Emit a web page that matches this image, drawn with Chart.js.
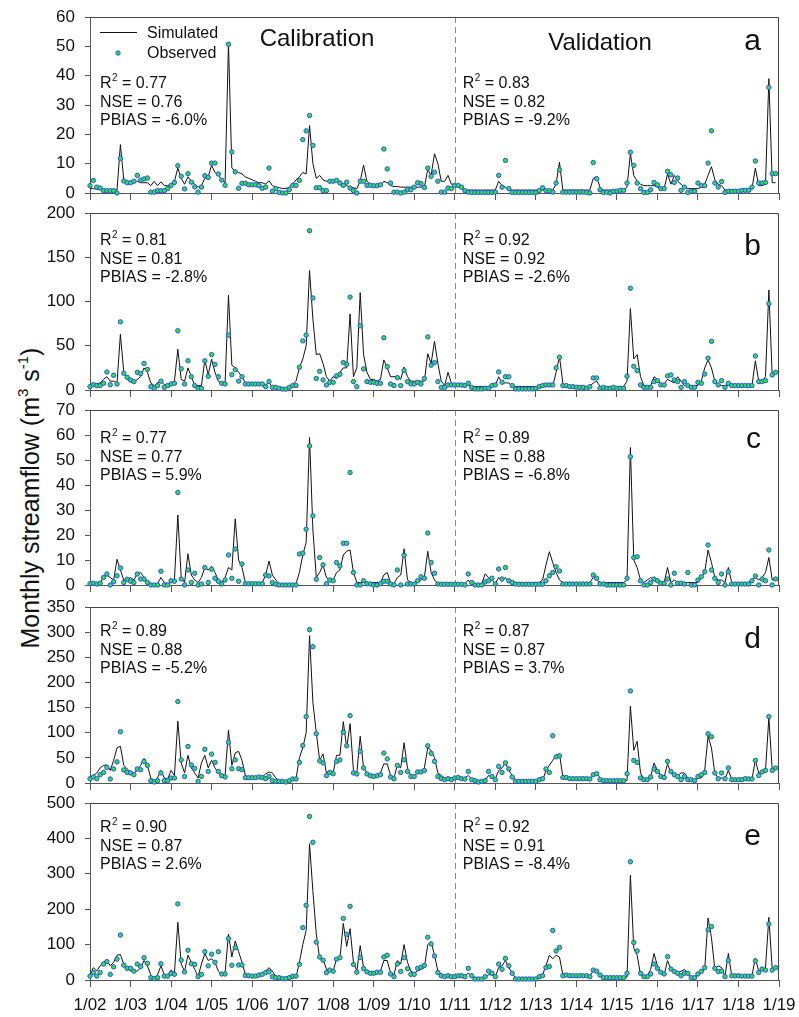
<!DOCTYPE html>
<html>
<head>
<meta charset="utf-8">
<script src="https://cdn.jsdelivr.net/npm/chart.js@4.4.1/dist/chart.umd.min.js"></script>
<style>
body { margin: 0; background: #fff; }
#wrap { position: relative; width: 799px; height: 1017px; overflow: hidden; font-family: "Liberation Sans", Arial, sans-serif; }
#wrap canvas { position: absolute; left: 0; }
#ytitle {
    position: absolute; left: -220px; top: 483px; width: 500px; height: 30px;
    line-height: 30px; text-align: center; font-size: 25px; color: #111;
    transform: rotate(-90deg); white-space: nowrap;
}
#ytitle sup { font-size: 15px; line-height: 0; position: relative; top: -2px; }
</style>
</head>
<body>
<div id="wrap">
    <div id="ytitle">Monthly streamflow (m<sup>3</sup> s<sup>-1</sup>)</div>
</div>
<script>
// monthly values, Jan 2002 .. Dec 2018 (one row per year)
const obsA = [
    2.5, 4.3, 2, 1.7, 0.8, 0.8, 0.8, 0.8, 0, 11.8, 4.1, 3.5,
    3.5, 4, 6, 4.4, 4.8, 5.1, 0.3, 0.3, 0.8, 0.8, 0.8, 1.5,
    2.6, 3.6, 9.3, 5.7, 1.4, 6.6, 3.7, 2.1, 0.3, 2, 5.9, 5.3,
    10.2, 10.2, 6.5, 4.4, 2.6, 50.7, 14, 7.2, 1.6, 3.3, 3.3, 2.8,
    2.8, 2.8, 2.5, 1.6, 2, 8.5, 0.6, 1.5, 0.2, 0, 0, 1.1,
    2.6, 2.6, 4.3, 18.2, 21.2, 26.4, 16.2, 1.8, 1.8, 0.8, 0.8, 4,
    4, 4.3, 3.4, 2.6, 3.7, 1.7, 0.8, 0, 4, 4, 2.6, 2.6,
    2.5, 2.5, 2.8, 15, 8.2, 3.4, 0.3, 0.3, 0, 0.3, 1.1, 1.1,
    2, 3.5, 3.2, 1.9, 8.5, 5.7, 7.1, 4, 0.3, 0.3, 1.7, 1.5,
    2.5, 2.6, 2, 0.8, 0.3, 0.2, 0.2, 0.2, 0.2, 0.2, 0.2, 0.2,
    0.3, 6, 2, 11.1, 1.5, 0.2, 0.2, 0.2, 0.2, 0.2, 0.2, 0.2,
    0.2, 0.8, 1.8, 0.8, 0.8, 0.3, 3.4, 7.9, 0.3, 0.3, 0.3, 0.3,
    0.3, 0.3, 0.3, 0.2, 0, 10.4, 4.9, 1.1, 0.2, 0.3, 0, 0.6,
    0.6, 0.9, 0.9, 3.4, 13.9, 9.4, 3.4, 1.5, 0.2, 0.2, 1.1, 3.6,
    2.8, 1.5, 1.5, 7.4, 6.2, 3.6, 5.1, 0.9, 2, 0.2, 0.6, 0.6,
    3.4, 2.5, 2.5, 10.2, 21.2, 3.4, 2, 3.9, 0.2, 0.6, 0.6, 0.6,
    0.6, 0.9, 0.9, 0.9, 2, 10.9, 3.4, 3.4, 3.6, 36, 6.6, 6.6
];
const simA = [
    1.5, 1.5, 1.3, 1.2, 1, 1, 1, 1, 1, 16.5, 4.5, 4,
    3.8, 3.8, 4, 3.5, 3.5, 3.5, 2.5, 4, 2.5, 3.8, 2.5, 2.5,
    3, 4, 8.5, 5, 3, 5.5, 4, 3, 2, 2.5, 5, 5.5,
    9.5, 7, 6, 4.5, 3.5, 51, 8.5, 7.5, 7, 6.5, 5.5, 5,
    4.5, 4, 3.5, 3.5, 3, 4.2, 2.5, 2, 1.8, 1.5, 1.5, 2,
    3, 4.5, 5.5, 7, 6.5, 23, 10, 5, 6, 4.5, 4, 4,
    4, 4.2, 3.5, 3, 2.5, 2, 1.8, 1.5, 4, 9.5, 4, 3,
    2.5, 2.5, 2.5, 4, 3.5, 2.5, 2.2, 2.2, 2, 2, 2, 2,
    2, 2, 2, 2, 8, 6, 13.4, 10, 4, 4, 6, 3,
    3, 2.5, 1.5, 1, 1, 1, 1, 1, 1, 1, 1, 1,
    1, 4, 2.5, 2, 1, 1, 1, 1, 1, 1, 1, 1,
    1, 1, 1, 1, 1, 1, 3, 10.5, 1, 1, 1, 1,
    1, 1, 1, 1, 1, 5, 5.5, 2, 1, 1, 1, 1,
    1, 1, 1, 2, 13.4, 6, 4, 3, 2.5, 2.5, 2.5, 2.5,
    2, 1.5, 1.5, 6.5, 3, 6, 4, 3, 2, 1.5, 1.5, 1.5,
    1.5, 2, 3, 6, 9, 4.5, 3, 2.5, 1, 1, 1, 1,
    1, 1, 1, 1, 1.5, 8.5, 2.5, 2.5, 3, 39, 3.5, 3.5
];
const obsB = [
    3.8, 6, 5, 5, 7.6, 20.4, 6, 16.6, 6.8, 77, 19, 14.4,
    11.4, 9.5, 20, 18.5, 30, 23.4, 3.8, 1.9, 5, 10, 3, 5,
    6.8, 7.6, 67, 24, 6.8, 33, 15, 5, 1.9, 1.9, 33, 15.5,
    40, 29, 15, 7.6, 6.8, 62, 17.4, 23, 10, 15, 6.8, 6.8,
    6.8, 6.8, 6.8, 6.8, 3.8, 9.5, 3, 3, 1.9, 1, 1, 3,
    5, 5, 25.7, 55.5, 62, 180, 104, 13, 21, 11.4, 5.7, 8.7,
    8.7, 16, 17.8, 31, 29, 105, 9.5, 3.8, 72.5, 23.8, 9.5, 8.7,
    8.7, 7.6, 7.6, 59, 26.4, 6.8, 5, 14, 5, 22, 9.5, 6.8,
    6.8, 8.7, 6.8, 13, 60, 28, 31, 9.5, 3, 3, 5.7, 5.7,
    5.7, 5.7, 5.7, 5, 7.6, 3, 1.2, 1.2, 1.2, 1.9, 1.9, 5,
    5.7, 20.4, 8.7, 15, 15, 5, 1.2, 1.2, 1.2, 1.2, 1.2, 1.2,
    1.9, 3.8, 5, 5.7, 5.7, 5.7, 25, 37, 5, 5, 3.8, 3.8,
    3, 3, 3, 1.9, 3.8, 13.6, 13.6, 1.9, 3, 1.9, 1.9, 3,
    1.9, 1.9, 1.9, 15.5, 115, 26.8, 22, 5.7, 3, 3, 3, 9.5,
    10.6, 5.7, 5.7, 16, 17, 11.4, 9.5, 3, 9.5, 5, 3, 3,
    8.7, 7.6, 18, 36, 55, 9.5, 5.7, 10.6, 3, 7.6, 5, 5,
    5, 5, 5, 5, 5, 38.5, 9.5, 9.5, 10.6, 97.5, 17, 20
];
const simB = [
    5, 6, 7, 8, 12, 15, 10, 10, 8, 63, 20, 12,
    9, 9, 12, 15, 25, 20, 8, 5, 8, 10, 6, 6,
    8, 10, 46, 12, 10, 25, 15, 5, 5, 5, 34, 17,
    35, 20, 10, 8, 8, 107, 28, 25, 20, 15, 8, 8,
    8, 8, 8, 8, 6, 8, 4, 3, 2, 2, 2, 3,
    6, 10, 25, 35, 50, 135, 80, 40, 41, 30, 15, 10,
    15, 13, 20, 25, 25, 86, 15, 25, 110, 40, 20, 12,
    12, 10, 12, 34, 25, 15, 15, 15, 12, 26, 15, 10,
    10, 10, 10, 10, 41, 30, 55, 30, 10, 5, 20, 8,
    5, 5, 5, 5, 5, 4, 4, 4, 4, 4, 4, 5,
    5, 15, 8, 8, 8, 4, 4, 4, 4, 4, 4, 4,
    4, 4, 4, 4, 4, 4, 20, 38, 8, 4, 4, 4,
    4, 4, 4, 4, 4, 8, 10, 4, 4, 4, 4, 4,
    4, 4, 4, 10, 92, 35, 40, 15, 5, 5, 5, 15,
    12, 7, 7, 12, 10, 8, 15, 10, 5, 5, 5, 5,
    5, 10, 25, 34, 25, 10, 5, 5, 5, 5, 5, 5,
    5, 5, 5, 5, 5, 33, 10, 10, 15, 113, 15, 20
];
const obsC = [
    0.5, 0.7, 0.4, 0.7, 3, 4.4, 0, 1.3, 3.7, 6.8, 1, 2.3,
    1.5, 1, 4.4, 2.4, 2.4, 1, 0, 0, 0, 5.5, 0, 0,
    1.7, 1.5, 37, 2.4, 0, 6, 1, 4.7, 0, 0.4, 7, 1,
    6.3, 2.7, 1.5, 0.4, 2, 12, 2.7, 14.4, 1.5, 8.4, 0.5, 0.5,
    0.5, 0.5, 0.5, 0.5, 4, 3.6, 1, 0.3, 0, 0, 0, 0,
    0, 0, 12.4, 12.7, 22.3, 55.6, 27.7, 2.3, 11, 8.1, 0.5, 2,
    1.7, 9, 7.6, 16.7, 16.7, 45, 5, 0, 0, 1.7, 0.5, 0.4,
    0, 0, 0.5, 1.5, 1.5, 0.4, 0, 6, 0, 11.9, 0.4, 0.4,
    0.4, 1.7, 3.3, 2.7, 20.8, 9, 4.7, 0.4, 0.3, 0.3, 0.3, 0.3,
    0.3, 0.3, 0.3, 0, 4.4, 1, 0, 0, 0, 1.2, 1.7, 2.7,
    0.4, 6.4, 2.4, 7, 1.7, 1, 0.4, 0.3, 0.3, 0.3, 0.3, 0.3,
    0.3, 0.3, 0.3, 1.7, 3.7, 5, 7.3, 5.6, 0.4, 0.4, 0.4, 0.4,
    0.4, 0.4, 0.4, 0.4, 0.4, 4, 2.7, 0.4, 0.4, 0, 0, 0,
    0, 0, 0, 2.7, 51.3, 11, 11.3, 1.7, 0, 0, 1, 2.4,
    1.7, 0.7, 0.7, 2.4, 0, 4.7, 0.7, 0.7, 0.4, 5, 0, 0,
    2, 3.3, 5.3, 16, 6, 2.7, 1, 4.4, 0, 5.3, 0.4, 0.4,
    0.4, 0.4, 0.4, 0.4, 1.7, 3.6, 0, 2.4, 1.7, 14, 0, 2.4
];
const simC = [
    0.5, 1, 0.5, 1, 3, 4, 3, 2, 10.3, 6, 2, 2,
    3, 2, 4.5, 5, 3, 1, 0.5, 0.5, 0.5, 3, 1, 0.5,
    1, 2, 28, 3, 1, 12.5, 4, 2, 1, 3, 7, 6,
    7.5, 5, 2, 1, 3, 7, 6, 26.5, 10, 7, 1, 1,
    1, 1, 1, 1, 4, 9.6, 4, 2, 0.5, 0.5, 0.5, 0.5,
    0.5, 0.5, 5, 12, 17, 59, 22, 3, 5, 8, 3, 2,
    2, 5, 6, 12, 13.5, 14, 5, 1, 1, 1, 1, 1,
    1, 1, 1, 4, 5, 1, 0.5, 3, 4, 14.5, 2, 1,
    1, 1, 2, 3, 13.5, 5, 2, 0.5, 0.5, 0.5, 0.5, 0.5,
    0.5, 0.5, 0.5, 0.5, 2, 0.5, 0.5, 0.5, 0.5, 4.5, 3, 2,
    0.5, 3, 1.5, 3, 1, 1, 1, 1, 1, 1, 1, 1,
    1, 1, 2, 8, 13.3, 9, 5, 2, 1, 1, 1, 1,
    1, 1, 1, 1, 1, 3, 2, 1, 1, 1, 1, 1,
    1, 1, 1, 2, 55, 10, 7, 2, 1, 2, 3, 2,
    1, 1, 1, 7, 1, 2, 1, 1, 1, 1, 1, 1,
    1, 3, 5, 14, 9, 3, 2, 2, 1, 7, 1, 1,
    1, 1, 1, 1, 2, 3, 2, 3, 5, 11, 2, 2
];
const obsD = [
    8.6, 12, 8.6, 16.5, 21, 31, 8, 28, 42, 102, 26, 21,
    20, 16.5, 28, 26.4, 43, 35, 4.6, 2, 4.6, 20, 4.6, 4.6,
    10, 10, 162, 46, 13, 72.6, 36, 29, 3.3, 13, 67, 23,
    57.5, 41, 23, 14.5, 12, 81, 28.4, 46, 28.4, 26.4, 10.6, 10.6,
    10.6, 10.6, 12, 10.6, 8.6, 13, 4.6, 3.3, 3.3, 3.3, 2, 4.6,
    8, 8, 41, 74.6, 132, 305, 271, 98, 44, 40, 14.5, 21,
    18.5, 43, 46, 101, 74, 134, 20, 18, 63, 30, 18, 14.5,
    13, 14.5, 16.5, 59.4, 48, 12, 8.6, 35, 21, 46, 23, 13,
    13, 22, 22, 25, 74, 59, 43, 13, 8.6, 6.6, 8.6, 6.6,
    10, 11, 8.6, 8, 23, 6.6, 4.6, 2, 3.3, 4.6, 23, 13,
    6.6, 33, 21, 40, 28, 12, 3.3, 3.3, 3.3, 3.3, 3.3, 3.3,
    3.3, 6.6, 8.6, 28, 21, 94, 52, 54, 11, 11, 8.6, 8.6,
    8.6, 8.6, 8.6, 8.6, 8, 16.5, 18.5, 6.6, 4.6, 4.6, 4.6, 4.6,
    4.6, 4.6, 4.6, 18.5, 183, 45, 41, 10, 6.6, 6.6, 12, 28,
    23, 13, 11, 43, 23, 16.5, 13, 6.6, 13, 6.6, 6.6, 4.6,
    13, 16.5, 21, 98, 92, 20, 8.6, 20, 8.6, 30, 6.6, 6.6,
    6.6, 6.6, 8.6, 8, 8, 45, 15, 22, 25, 132, 25, 30
];
const simD = [
    10, 15, 20, 30, 35, 36, 25, 45, 70, 73, 35, 28,
    22, 20, 25, 35, 49, 35, 10, 5, 10, 25, 10, 8,
    25, 15, 123, 40, 20, 55, 30, 20, 10, 40, 55, 30,
    45, 30, 20, 15, 15, 105, 35, 60, 63, 45, 15, 10,
    10, 10, 10, 12, 18, 22, 20, 10, 5, 5, 5, 5,
    5, 8, 50, 70, 100, 293, 160, 100, 45, 58, 20, 25,
    20, 55, 55, 122, 70, 118, 25, 20, 93, 30, 20, 15,
    12, 15, 20, 38, 38, 15, 10, 35, 30, 80, 30, 15,
    15, 20, 20, 30, 70, 65, 50, 20, 15, 10, 10, 10,
    10, 10, 10, 10, 15, 8, 5, 5, 5, 5, 15, 10,
    8, 25, 30, 40, 25, 15, 5, 5, 5, 5, 5, 5,
    5, 5, 5, 25, 35, 45, 55, 58, 12, 8, 8, 8,
    8, 8, 8, 8, 8, 15, 20, 10, 5, 5, 5, 5,
    5, 5, 5, 5, 153, 65, 83, 20, 8, 8, 12, 40,
    25, 15, 12, 38, 20, 15, 15, 20, 20, 10, 5, 5,
    10, 10, 25, 93, 70, 20, 10, 10, 8, 25, 8, 8,
    8, 8, 8, 8, 8, 45, 20, 20, 25, 130, 25, 30
];
const obsE = [
    11, 21, 11, 21, 45, 52, 16, 37, 59, 127, 42, 33,
    33, 25, 45, 38, 63, 47, 6.6, 3.8, 6.6, 46, 11, 11,
    19, 16, 215, 56, 23, 84, 46, 44, 9.4, 16, 80, 40,
    73, 50, 80, 17, 17, 117, 41.5, 91.5, 42.5, 42.5, 13, 12,
    11, 11, 14, 16, 21, 23, 9.4, 6.6, 6.6, 3.8, 3.8, 6.6,
    11, 11, 44, 148, 211, 462, 389, 107, 65, 56, 21, 28,
    25, 59, 63, 174, 129, 208, 44, 22, 64, 32, 23, 19,
    19, 22, 22, 65, 70, 17, 9.4, 45, 24, 63, 32, 16,
    16, 33, 36, 41, 121, 102, 68, 21, 12, 9.4, 12, 9.4,
    9.4, 12, 12, 9.4, 33, 12, 2.8, 2.8, 2.8, 9.4, 25, 19,
    9.4, 45, 30, 61, 40, 19, 2.8, 2.8, 2.8, 2.8, 2.8, 2.8,
    2.8, 9.4, 12, 35, 38, 140, 82, 92, 12, 14, 12, 12,
    12, 12, 12, 12, 9.4, 28, 25, 14, 6.6, 6.6, 6.6, 6.6,
    6.6, 6.6, 6.6, 19, 334, 106, 82, 19, 9.4, 9.4, 17, 45,
    33, 22, 17, 66, 31, 24, 19, 12, 19, 19, 6.6, 6.6,
    17, 24, 35, 142, 151, 33, 24, 25, 9.4, 55, 12, 12,
    12, 11, 11, 11, 11, 54, 21, 31, 28, 158, 28, 35
];
const simE = [
    15, 35, 25, 40, 50, 55, 40, 50, 70, 72, 45, 35,
    25, 22, 25, 35, 55, 40, 15, 5, 15, 40, 15, 10,
    28, 20, 163, 45, 25, 70, 50, 30, 10, 45, 75, 55,
    60, 50, 25, 15, 20, 130, 65, 110, 80, 50, 15, 12,
    12, 12, 12, 15, 25, 35, 25, 10, 5, 5, 5, 5,
    5, 8, 50, 100, 140, 385, 250, 130, 60, 60, 30, 30,
    25, 60, 60, 160, 95, 145, 50, 25, 97, 35, 25, 20,
    15, 18, 25, 55, 55, 20, 15, 55, 45, 100, 50, 25,
    20, 25, 30, 35, 100, 108, 70, 25, 15, 12, 12, 10,
    10, 12, 12, 10, 20, 10, 5, 5, 5, 5, 15, 15,
    10, 35, 40, 55, 35, 20, 5, 5, 5, 5, 5, 5,
    5, 5, 15, 40, 70, 60, 70, 65, 15, 12, 12, 12,
    12, 12, 12, 12, 12, 25, 25, 12, 8, 8, 8, 8,
    8, 8, 8, 8, 296, 90, 70, 15, 10, 12, 30, 75,
    40, 20, 15, 55, 30, 20, 20, 25, 30, 20, 8, 8,
    15, 20, 30, 175, 120, 30, 40, 35, 10, 75, 12, 12,
    12, 12, 12, 12, 12, 62, 25, 30, 35, 177, 30, 35
];

const panelLetters = ['a', 'b', 'c', 'd', 'e'];
const yMax = [60, 200, 70, 350, 500];
const yStep = [10, 50, 10, 50, 100];
const calR2 = ['0.77', '0.81', '0.77', '0.89', '0.90'];
const calNSE = ['0.76', '0.81', '0.77', '0.88', '0.87'];
const calPBIAS = ['-6.0%', '-2.8%', '5.9%', '-5.2%', '2.6%'];
const valR2 = ['0.83', '0.92', '0.89', '0.87', '0.92'];
const valNSE = ['0.82', '0.92', '0.88', '0.87', '0.91'];
const valPBIAS = ['-9.2%', '-2.6%', '-6.8%', '3.7%', '-8.4%'];
const firstYear = 2002;
const splitMonth = 108; // Jan 2011, start of validation

const obsAll = [obsA, obsB, obsC, obsD, obsE];
const simAll = [simA, simB, simC, simD, simE];

// plot area of each panel on the page
const areaTop = [17, 213, 410, 607, 803];
const areaBottom = [193, 390, 585, 783, 980];
const statsY = [71, 32, 33, 29, 29];
const letterY = [33, 42, 38, 41, 42];

const FONT = '"Liberation Sans", Arial, sans-serif';
const OBS_FILL = '#2ee04a';
const OBS_EDGE = '#2b50f0';

function drawR2(ctx, x, y, value) {
    ctx.font = '16px ' + FONT;
    ctx.fillText('R', x, y);
    const w = ctx.measureText('R').width;
    ctx.font = '10px ' + FONT;
    ctx.fillText('2', x + w + 0.5, y - 7);
    ctx.font = '16px ' + FONT;
    ctx.fillText(' = ' + value, x + w + 6, y);
}

const panelDecor = {
    id: 'panelDecor',
    beforeDatasetsDraw(chart, args, opts) {
        const {ctx, chartArea: a, scales: {x}} = chart;
        const xs = Math.round(x.getPixelForValue(splitMonth)) + 0.5;
        ctx.save();
        ctx.strokeStyle = '#8a8a8a';
        ctx.lineWidth = 1;
        ctx.setLineDash([6, 4]);
        ctx.beginPath();
        ctx.moveTo(xs, a.top);
        ctx.lineTo(xs, a.bottom);
        ctx.stroke();
        ctx.setLineDash([]);
        ctx.strokeStyle = '#444';
        ctx.beginPath();
        ctx.moveTo(a.left, a.top + 0.5);
        ctx.lineTo(a.right - 0.5, a.top + 0.5);
        ctx.lineTo(a.right - 0.5, a.bottom);
        ctx.stroke();
        ctx.restore();
    },
    afterDraw(chart, args, opts) {
        const {ctx, chartArea: a, scales: {x}} = chart;
        const i = opts.index;
        const xs = x.getPixelForValue(splitMonth);
        ctx.save();
        ctx.fillStyle = '#111';
        ctx.textAlign = 'left';
        ctx.textBaseline = 'alphabetic';

        const sy = a.top + statsY[i];
        drawR2(ctx, a.left + 10, sy, calR2[i]);
        ctx.fillText('NSE = ' + calNSE[i], a.left + 10, sy + 18.5);
        ctx.fillText('PBIAS = ' + calPBIAS[i], a.left + 10, sy + 37);
        drawR2(ctx, xs + 8, sy, valR2[i]);
        ctx.fillText('NSE = ' + valNSE[i], xs + 8, sy + 18.5);
        ctx.fillText('PBIAS = ' + valPBIAS[i], xs + 8, sy + 37);

        ctx.font = '30px ' + FONT;
        ctx.textAlign = 'right';
        ctx.fillText(panelLetters[i], a.right - 18, a.top + letterY[i]);

        if (i === 0) {
            ctx.font = '24px ' + FONT;
            ctx.textAlign = 'center';
            ctx.fillText('Calibration', 317, a.top + 29);
            ctx.fillText('Validation', 600, a.top + 33);

            // legend
            ctx.strokeStyle = '#111';
            ctx.lineWidth = 1;
            ctx.beginPath();
            ctx.moveTo(100, a.top + 15.5);
            ctx.lineTo(137, a.top + 15.5);
            ctx.stroke();
            ctx.beginPath();
            ctx.arc(118, a.top + 36, 2.2, 0, Math.PI * 2);
            ctx.fillStyle = OBS_FILL;
            ctx.fill();
            ctx.strokeStyle = OBS_EDGE;
            ctx.stroke();
            ctx.fillStyle = '#111';
            ctx.font = '16px ' + FONT;
            ctx.textAlign = 'left';
            ctx.fillText('Simulated', 147, a.top + 21);
            ctx.fillText('Observed', 147, a.top + 41);
        }
        ctx.restore();
    }
};

function yearLabel(v) {
    const yr = firstYear + v / 12;
    return '1/' + String(yr % 100).padStart(2, '0');
}

function buildPanel(i) {
    const last = i === 4;
    const padTop = 12;
    const axisH = last ? 37 : 12;
    const h = areaBottom[i] - areaTop[i] + padTop + axisH;

    const canvas = document.createElement('canvas');
    canvas.width = 799;
    canvas.height = h;
    canvas.style.width = '799px';
    canvas.style.height = h + 'px';
    canvas.style.top = (areaTop[i] - padTop) + 'px';
    document.getElementById('wrap').appendChild(canvas);

    const obs = obsAll[i];
    const sim = simAll[i];

    return new Chart(canvas.getContext('2d'), {
        type: 'line',
        data: {
            datasets: [
                {
                    label: 'Observed',
                    data: obs.map((v, m) => ({x: m, y: v})),
                    showLine: false,
                    pointRadius: 2.2,
                    pointBackgroundColor: OBS_FILL,
                    pointBorderColor: OBS_EDGE,
                    pointBorderWidth: 1,
                    clip: false
                },
                {
                    label: 'Simulated',
                    data: sim.map((v, m) => ({x: m, y: v})),
                    borderColor: '#111',
                    borderWidth: 1,
                    pointRadius: 0,
                    tension: 0,
                    fill: false,
                    clip: false
                }
            ]
        },
        options: {
            responsive: false,
            animation: false,
            events: [],
            layout: {padding: {top: padTop, right: 20, left: 0, bottom: 0}},
            plugins: {
                legend: {display: false},
                tooltip: {enabled: false},
                panelDecor: {index: i}
            },
            scales: {
                x: {
                    type: 'linear',
                    min: 0,
                    max: 204,
                    afterFit(scale) {
                        scale.height = axisH;
                        scale.paddingLeft = 0;
                        scale.paddingRight = 0;
                    },
                    border: {color: '#555'},
                    grid: {drawOnChartArea: false, drawTicks: true, tickLength: 7, color: '#555'},
                    ticks: {
                        display: last,
                        stepSize: 12,
                        autoSkip: false,
                        maxRotation: 0,
                        padding: 8,
                        color: '#111',
                        font: {family: FONT, size: 17},
                        callback: yearLabel
                    }
                },
                y: {
                    min: 0,
                    max: yMax[i],
                    afterFit(scale) {
                        scale.width = 90;
                        scale.paddingTop = 0;
                        scale.paddingBottom = 0;
                    },
                    border: {color: '#555'},
                    grid: {drawOnChartArea: false, drawTicks: true, tickLength: 5, color: '#555'},
                    ticks: {
                        stepSize: yStep[i],
                        padding: 10,
                        color: '#111',
                        font: {family: FONT, size: 17}
                    }
                }
            }
        },
        plugins: [panelDecor]
    });
}

for (let i = 0; i < 5; i++) {
    buildPanel(i);
}
</script>
</body>
</html>
